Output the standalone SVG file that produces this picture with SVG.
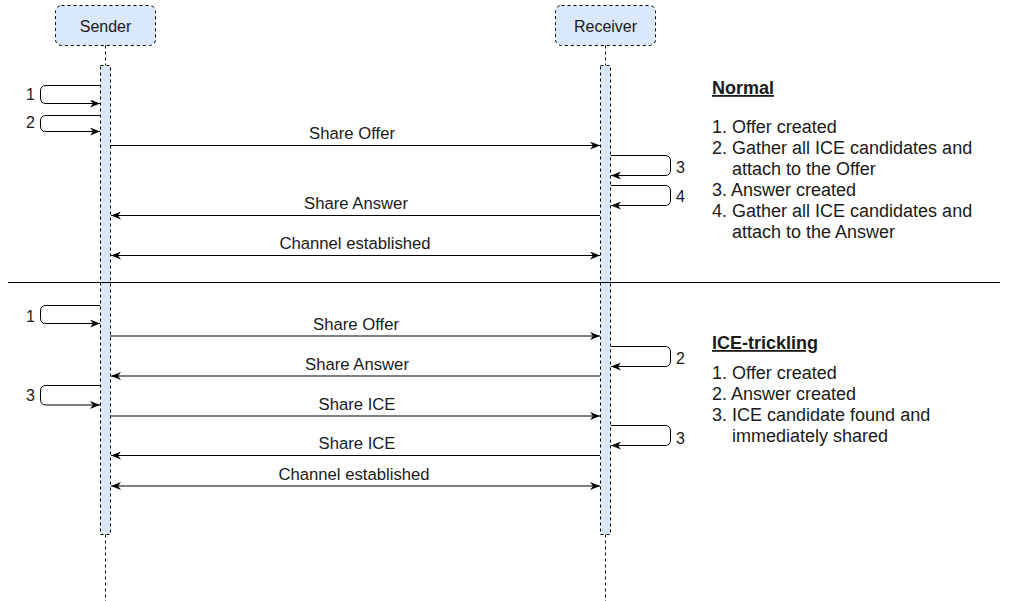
<svg xmlns="http://www.w3.org/2000/svg" width="1026" height="601" viewBox="0 0 1026 601">
<style>
.box{fill:#dae8fc;stroke:#000;stroke-width:1;stroke-dasharray:3 3}
.life{fill:none;stroke:#000;stroke-width:1;stroke-dasharray:3 3}
.msg{fill:none;stroke:#000;stroke-width:1}
.arr{marker-end:url(#ah)}
.both{marker-start:url(#ah);marker-end:url(#ah)}
text{font-family:"Liberation Sans",Arial,sans-serif;fill:#1a1a1a}
.lbl{font-size:16.7px;text-anchor:middle}
.num{font-size:16px}
.note{font-size:18px}
.head{font-size:18px;font-weight:bold;text-decoration:underline}
</style>
<defs>
<marker id="ah" viewBox="0 0 10 8" refX="10" refY="4" markerWidth="10" markerHeight="8" orient="auto-start-reverse" markerUnits="userSpaceOnUse">
<path d="M0,0 L10,4 L0,8 L3,4 Z" fill="#000"/>
</marker>
</defs>
<rect width="1026" height="601" fill="#fff"/>

<g id="sender">
<rect class="box" x="55.5" y="5.5" width="100" height="40" rx="6"/>
<text class="lbl" x="105.5" y="32" style="font-size:16px">Sender</text>
<line class="life" x1="105.5" y1="45.5" x2="105.5" y2="65.5"/>
<rect class="box" x="100.5" y="65.5" width="10" height="469"/>
<line class="life" x1="105.5" y1="534.5" x2="105.5" y2="601"/>
</g>

<g id="receiver">
<rect class="box" x="555.5" y="5.5" width="100" height="40" rx="6"/>
<text class="lbl" x="605.5" y="32" style="font-size:16px">Receiver</text>
<line class="life" x1="605.5" y1="45.5" x2="605.5" y2="65.5"/>
<rect class="box" x="600.5" y="65.5" width="10" height="469"/>
<line class="life" x1="605.5" y1="534.5" x2="605.5" y2="601"/>
</g>

<g id="connectors">
<path class="msg arr" d="M100,85.5 H46 Q40.5,85.5 40.5,91 V98 Q40.5,103.5 46,103.5 H100"/>
<path class="msg arr" d="M100,115.5 H46 Q40.5,115.5 40.5,121 V126 Q40.5,131.5 46,131.5 H100"/>
<line class="msg arr" x1="110" y1="145.5" x2="600" y2="145.5"/>
<path class="msg arr" d="M611,155.5 H665 Q670.5,155.5 670.5,161 V170 Q670.5,175.5 665,175.5 H611"/>
<path class="msg arr" d="M611,185.5 H665 Q670.5,185.5 670.5,191 V200 Q670.5,205.5 665,205.5 H611"/>
<line class="msg arr" x1="600" y1="215.5" x2="111" y2="215.5"/>
<line class="msg both" x1="111" y1="255.5" x2="600" y2="255.5"/>
<line class="msg" x1="8" y1="282.5" x2="1000" y2="282.5"/>
<path class="msg arr" d="M100,305.5 H46 Q40.5,305.5 40.5,311 V318 Q40.5,323.5 46,323.5 H100"/>
<line class="msg arr" x1="110" y1="336" x2="600" y2="336"/>
<path class="msg arr" d="M611,346.5 H665 Q670.5,346.5 670.5,352 V361 Q670.5,366.5 665,366.5 H611"/>
<line class="msg arr" x1="600" y1="376" x2="111" y2="376"/>
<path class="msg arr" d="M100,385.5 H46 Q40.5,385.5 40.5,391 V399 Q40.5,405 46,405 H100"/>
<line class="msg arr" x1="110" y1="416" x2="600" y2="416"/>
<path class="msg arr" d="M611,425.5 H665 Q670.5,425.5 670.5,431 V440 Q670.5,445.5 665,445.5 H611"/>
<line class="msg arr" x1="600" y1="455.5" x2="111" y2="455.5"/>
<line class="msg both" x1="111" y1="486" x2="600" y2="486"/>
</g>

<g id="labels">
<text class="lbl" x="352" y="139">Share Offer</text>
<text class="lbl" x="356" y="209">Share Answer</text>
<text class="lbl" x="355" y="249">Channel established</text>
<text class="lbl" x="356" y="330">Share Offer</text>
<text class="lbl" x="357" y="370">Share Answer</text>
<text class="lbl" x="357" y="410">Share ICE</text>
<text class="lbl" x="357" y="449">Share ICE</text>
<text class="lbl" x="354" y="480">Channel established</text>
<text class="num" x="35" y="100" text-anchor="end">1</text>
<text class="num" x="35" y="128" text-anchor="end">2</text>
<text class="num" x="676" y="173">3</text>
<text class="num" x="676" y="202">4</text>
<text class="num" x="35" y="322" text-anchor="end">1</text>
<text class="num" x="35" y="401" text-anchor="end">3</text>
<text class="num" x="676" y="364">2</text>
<text class="num" x="676" y="444">3</text>
</g>

<g id="note-normal">
<text class="head" x="712" y="94">Normal</text>
<text class="note" x="712" y="133">1. Offer created</text>
<text class="note" x="712" y="154">2. Gather all ICE candidates and</text>
<text class="note" x="732" y="175">attach to the Offer</text>
<text class="note" x="712" y="196">3. Answer created</text>
<text class="note" x="712" y="217">4. Gather all ICE candidates and</text>
<text class="note" x="732" y="238">attach to the Answer</text>
</g>

<g id="note-trickle">
<text class="head" x="712" y="349">ICE-trickling</text>
<text class="note" x="712" y="379">1. Offer created</text>
<text class="note" x="712" y="400">2. Answer created</text>
<text class="note" x="712" y="421">3. ICE candidate found and</text>
<text class="note" x="732" y="442">immediately shared</text>
</g>
</svg>
